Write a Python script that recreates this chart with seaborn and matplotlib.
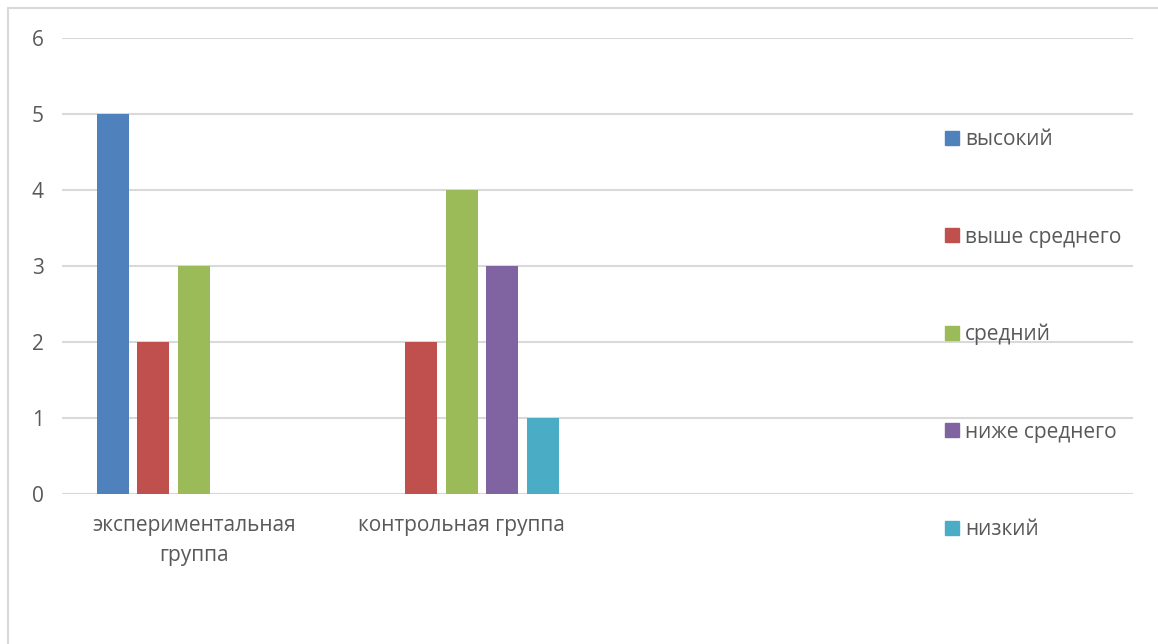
import matplotlib
matplotlib.use("Agg")
import matplotlib.pyplot as plt
from matplotlib.lines import Line2D
import seaborn as sns
import pandas as pd

categories = ["экспериментальная\nгруппа", "контрольная группа"]
levels = ["высокий", "выше среднего", "средний", "ниже среднего", "низкий"]
exp_values = [5, 2, 3, 0, 0]
ctrl_values = [0, 2, 4, 3, 1]
yticks = [0, 1, 2, 3, 4, 5, 6]
colors = ["#4F81BD", "#C0504D", "#9BBB59", "#8064A2", "#4BACC6"]

rows = []
for lvl, v in zip(levels, exp_values):
    rows.append({"group": categories[0], "level": lvl, "value": v})
for lvl, v in zip(levels, ctrl_values):
    rows.append({"group": categories[1], "level": lvl, "value": v})
df = pd.DataFrame(rows)

sns.set_theme(style="white")
plt.rcParams["font.family"] = ["Open Sans", "DejaVu Sans"]
text_color = "#595959"
grid_color = "#D9D9D9"
fs = 15

fig = plt.figure(figsize=(11.58, 6.44), dpi=100)
ax = fig.add_axes([62/1158, 1-494/644, (1133-62)/1158, (494-38)/644])

sns.barplot(data=df, x="group", y="value", hue="level", order=categories,
            hue_order=levels, palette=colors, width=0.756, gap=0.21,
            saturation=1, ax=ax, legend=False, errorbar=None, linewidth=0)

ax.set_xlim(-0.4925, 3.5075)
ax.set_ylim(0, 6)
ax.set_yticks(yticks)
ax.set_yticklabels([str(t) for t in yticks])
ax.yaxis.grid(True, color=grid_color, linewidth=1.5)
ax.set_axisbelow(True)
for s in ax.spines.values():
    s.set_visible(False)
ax.axhline(0, color=grid_color, linewidth=1.5, zorder=0)
ax.tick_params(axis="both", length=0, labelsize=fs, colors=text_color)
ax.tick_params(axis="x", pad=15)
ax.tick_params(axis="y", pad=13)
for lab in ax.get_xticklabels():
    lab.set_linespacing(1.55)
ax.set_xlabel("")
ax.set_ylabel("")

handles = [Line2D([0], [0], marker="s", linestyle="none", markersize=10,
                  markerfacecolor=c, markeredgecolor=c) for c in colors]
leg = fig.legend(handles, levels, loc="upper left",
                 bbox_to_anchor=(934/1158, 1-119/644), frameon=False,
                 fontsize=fs, labelcolor=text_color, labelspacing=3.66,
                 handlelength=0.7, handletextpad=0.3, borderpad=0)

# outer chart border (top and left visible)
fig.add_artist(Line2D([8/1158, 1], [1-8/644, 1-8/644], color=grid_color, linewidth=1.5))
fig.add_artist(Line2D([8/1158, 8/1158], [0, 1-8/644], color=grid_color, linewidth=1.5))

fig.savefig("out.png", dpi=100, facecolor="white")
